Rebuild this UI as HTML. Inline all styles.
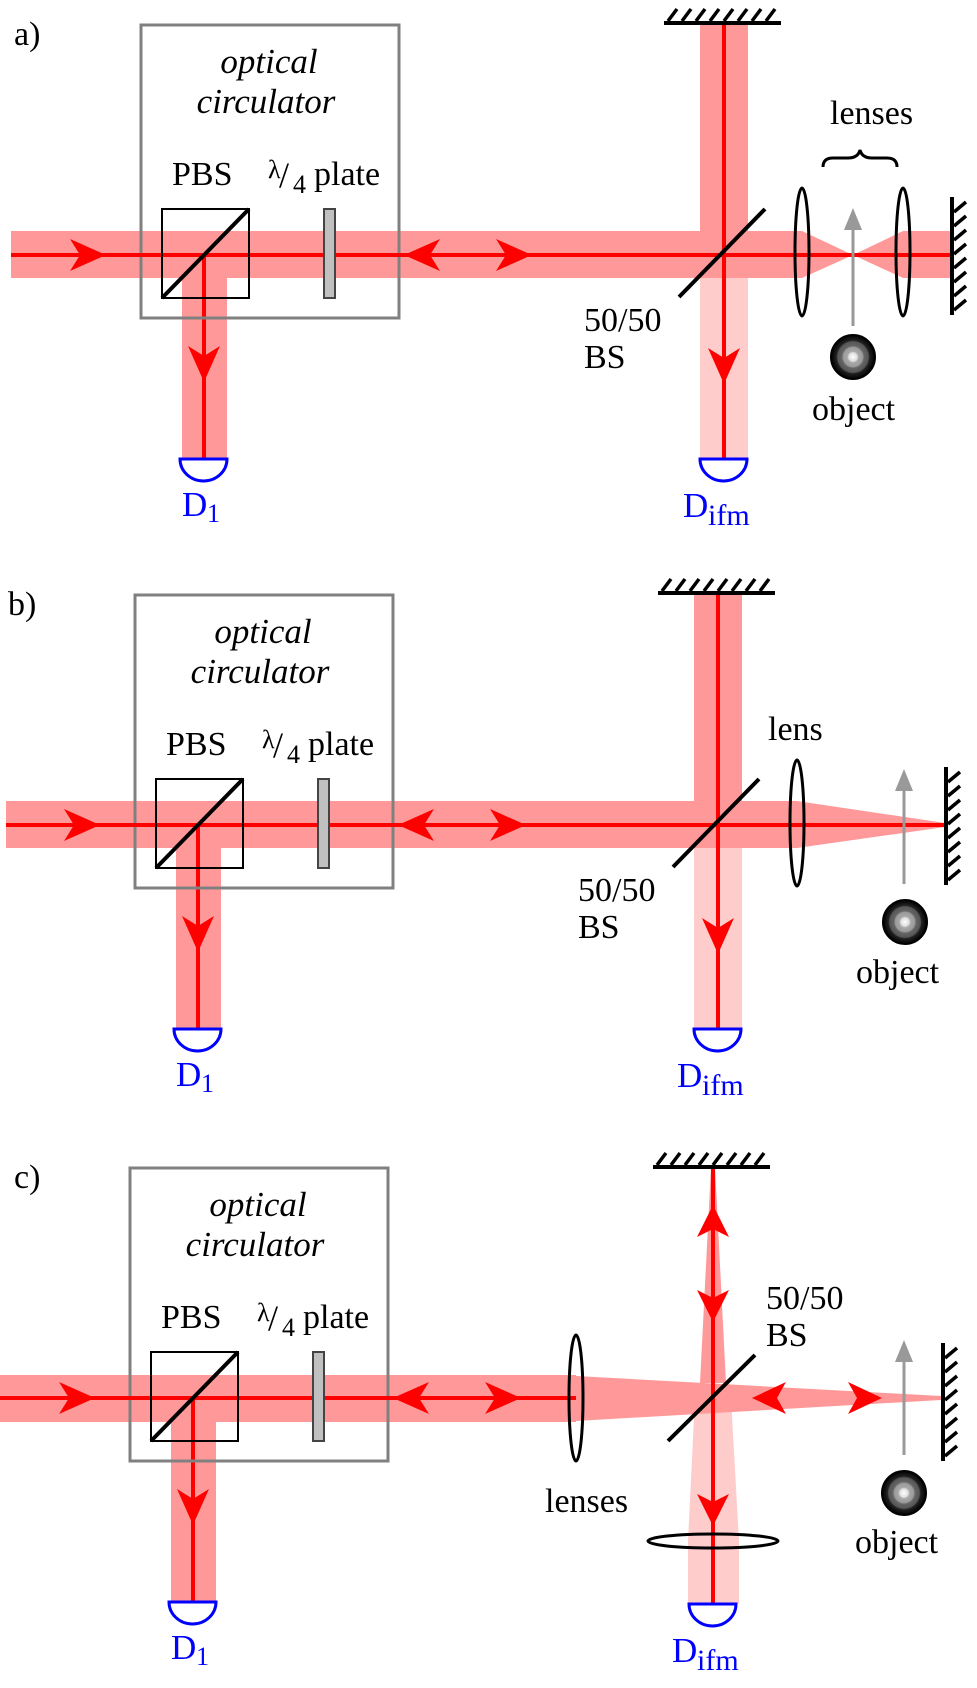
<!DOCTYPE html>
<html><head><meta charset="utf-8"><style>
html,body{margin:0;padding:0;background:#fff}
svg{display:block}
text{font-family:"Liberation Serif",serif;font-size:34px;fill:#000}
.it{font-style:italic;font-size:35px}
.bl{fill:#0000ff}
</style></head><body>
<svg width="977" height="1688" viewBox="0 0 977 1688" xmlns="http://www.w3.org/2000/svg">
<defs>
<radialGradient id="og" cx="0.5" cy="0.5" r="0.5">
<stop offset="0" stop-color="#fff"/><stop offset="0.2" stop-color="#ddd"/><stop offset="0.25" stop-color="#aaa"/><stop offset="0.45" stop-color="#999"/><stop offset="0.5" stop-color="#666"/><stop offset="0.7" stop-color="#555"/><stop offset="0.75" stop-color="#222"/><stop offset="1" stop-color="#000"/>
</radialGradient>
<g id="left">
  <rect x="182" y="278" width="45" height="181" fill="#ff9999"/>
  <line x1="204" y1="255" x2="204" y2="459" stroke="#f00" stroke-width="4"/>
  <polygon points="204,382 188,346 204,356 220,346" fill="#f00"/>
  <rect x="141" y="25" width="258" height="293" fill="none" stroke="#808080" stroke-width="3"/>
  <text class="it" x="269" y="73" text-anchor="middle">optical</text>
  <text class="it" x="266" y="113" text-anchor="middle">circulator</text>
  <text x="172" y="185">PBS</text>
  <text x="268" y="178" style="font-size:26px">λ</text>
  <text x="279" y="187" style="font-size:36px">/</text>
  <text x="293" y="193" style="font-size:26px">4</text>
  <text x="314" y="185">plate</text>
  <path d="M180,459 h47 a23.5,22 0 0 1 -47,0 z" fill="#fff" stroke="#00f" stroke-width="3"/>
  <text class="bl" x="182" y="516" style="font-size:35px">D</text>
  <text class="bl" x="207" y="522" style="font-size:26px">1</text>
</g>
<g id="pbs">
  <rect x="162" y="209" width="87" height="89" fill="none" stroke="#000" stroke-width="2"/>
  <line x1="162" y1="298" x2="249" y2="209" stroke="#000" stroke-width="4"/>
  <rect x="324" y="209" width="11" height="89" fill="#c0c0c0" stroke="#444" stroke-width="2"/>
  <polygon points="106,255 70,239 80,255 70,271" fill="#f00"/>
  <polygon points="404,255 440,239 430,255 440,271" fill="#f00"/>
  <polygon points="532,255 496,239 506,255 496,271" fill="#f00"/>
</g>
<g id="topm">
  <line x1="664" y1="23" x2="781" y2="23" stroke="#000" stroke-width="4"/>
  <path d="M668,21 l9,-12 M682,21 l9,-12 M696,21 l9,-12 M710,21 l9,-12 M724,21 l9,-12 M738,21 l9,-12 M752,21 l9,-12 M766,21 l9,-12" stroke="#000" stroke-width="3.5"/>
</g>
<g id="rightm">
  <line x1="952" y1="197" x2="952" y2="315" stroke="#000" stroke-width="4"/>
  <path d="M954,212 l12,-10 M954,226 l12,-10 M954,240 l12,-10 M954,254 l12,-10 M954,268 l12,-10 M954,282 l12,-10 M954,296 l12,-10 M954,310 l12,-10" stroke="#000" stroke-width="3.5"/>
</g>
<g id="dif">
  <path d="M700,459 h47 a23.5,22 0 0 1 -47,0 z" fill="#fff" stroke="#00f" stroke-width="3"/>
  <text class="bl" x="683" y="517" style="font-size:35px">D</text>
  <text class="bl" x="708" y="525" style="font-size:30px">ifm</text>
</g>
</defs>

<!-- Panel a -->
<g>
  <rect x="700" y="23" width="48" height="208" fill="#ff9999"/>
  <rect x="700" y="278" width="48" height="181" fill="#ffcccc"/>
  <rect x="11" y="231" width="791" height="47" fill="#ff9999"/>
  <polygon points="802,231 853,255 802,278" fill="#ff9999"/>
  <polygon points="853,255 903,231 952,231 952,278 903,278" fill="#ff9999"/>
  <use href="#left"/>
  <line x1="11" y1="255" x2="952" y2="255" stroke="#f00" stroke-width="4"/>
  <line x1="724" y1="23" x2="724" y2="459" stroke="#f00" stroke-width="4"/>
  <polygon points="724,384 708,348 724,358 740,348" fill="#f00"/>
  <use href="#pbs"/>
  <use href="#topm"/>
  <line x1="679" y1="297" x2="765" y2="209" stroke="#000" stroke-width="4"/>
  <ellipse cx="802" cy="252" rx="7" ry="64" fill="none" stroke="#000" stroke-width="3"/>
  <ellipse cx="903" cy="252" rx="7" ry="64" fill="none" stroke="#000" stroke-width="3"/>
  <use href="#rightm"/>
  <line x1="853" y1="326" x2="853" y2="225" stroke="#999" stroke-width="3"/>
  <polygon points="853,208 844,230 862,230" fill="#999"/>
  <circle cx="853" cy="357" r="22" fill="url(#og)" stroke="#000" stroke-width="2"/>
  <text x="812" y="420">object</text>
  <text x="830" y="124">lenses</text>
  <path d="M823,167 q0,-9 10,-9 h15 q10,0 12,-8 q2,8 12,8 h15 q10,0 10,9" fill="none" stroke="#000" stroke-width="3"/>
  <text x="584" y="331">50/50</text>
  <text x="584" y="368">BS</text>
  <use href="#dif"/>
  <text x="14" y="45">a)</text>
</g>

<!-- Panel b -->
<g transform="translate(-6,570)">
  <rect x="700" y="23" width="48" height="208" fill="#ff9999"/>
  <rect x="700" y="278" width="48" height="181" fill="#ffcccc"/>
  <rect x="12" y="231" width="791" height="47" fill="#ff9999"/>
  <polygon points="803,231 951,253 951,257 803,278" fill="#ff9999"/>
  <use href="#left"/>
  <line x1="12" y1="255" x2="952" y2="255" stroke="#f00" stroke-width="4"/>
  <line x1="724" y1="23" x2="724" y2="459" stroke="#f00" stroke-width="4"/>
  <polygon points="724,384 708,348 724,358 740,348" fill="#f00"/>
  <use href="#pbs"/>
  <use href="#topm"/>
  <line x1="679" y1="297" x2="765" y2="209" stroke="#000" stroke-width="4"/>
  <ellipse cx="803" cy="253" rx="7" ry="63" fill="none" stroke="#000" stroke-width="3"/>
  <use href="#rightm"/>
  <line x1="910" y1="314" x2="910" y2="218" stroke="#999" stroke-width="3"/>
  <polygon points="910,199 901,221 919,221" fill="#999"/>
  <circle cx="911" cy="352" r="22" fill="url(#og)" stroke="#000" stroke-width="2"/>
  <text x="862" y="413">object</text>
  <text x="774" y="170">lens</text>
  <text x="584" y="331">50/50</text>
  <text x="584" y="368">BS</text>
  <use href="#dif"/>
  <text x="14" y="45">b)</text>
</g>

<!-- Panel c -->
<g transform="translate(-11,1143)">
  <polygon points="722,24 726,24 737,240 711,240" fill="#ff9999"/>
  <polygon points="706,255 742,255 750,398 750,461 699,461 699,398" fill="#ffcccc"/>
  <rect x="11" y="232" width="576" height="47" fill="#ff9999"/>
  <polygon points="587,233 952,253 952,257 587,278" fill="#ff9999"/>
  <use href="#left"/>
  <line x1="11" y1="255" x2="587" y2="255" stroke="#f00" stroke-width="4"/>
  <line x1="724" y1="24" x2="724" y2="461" stroke="#f00" stroke-width="4"/>
  <polygon points="724,62 708,94 724,86 740,94" fill="#f00"/>
  <polygon points="724,179 708,147 724,155 740,147" fill="#f00"/>
  <polygon points="724,383 708,351 724,359 740,351" fill="#f00"/>
  <polygon points="763,255 797,239 788,255 797,271" fill="#f00"/>
  <polygon points="893,255 859,239 868,255 859,271" fill="#f00"/>
  <use href="#pbs"/>
  <use href="#topm" transform="translate(0,1)"/>
  <line x1="679" y1="298" x2="766" y2="212" stroke="#000" stroke-width="4"/>
  <ellipse cx="587" cy="255" rx="7" ry="63" fill="none" stroke="#000" stroke-width="3"/>
  <ellipse cx="724" cy="398" rx="65" ry="7" fill="none" stroke="#000" stroke-width="3"/>
  <use href="#rightm" transform="translate(2,3)"/>
  <line x1="915" y1="312" x2="915" y2="216" stroke="#999" stroke-width="3"/>
  <polygon points="915,197 906,219 924,219" fill="#999"/>
  <circle cx="915" cy="350" r="22" fill="url(#og)" stroke="#000" stroke-width="2"/>
  <text x="866" y="410">object</text>
  <text x="556" y="369">lenses</text>
  <text x="777" y="166">50/50</text>
  <text x="777" y="203">BS</text>
  <g transform="translate(0,2)"><use href="#dif"/></g>
  <text x="25" y="45">c)</text>
</g>
</svg>
</body></html>
